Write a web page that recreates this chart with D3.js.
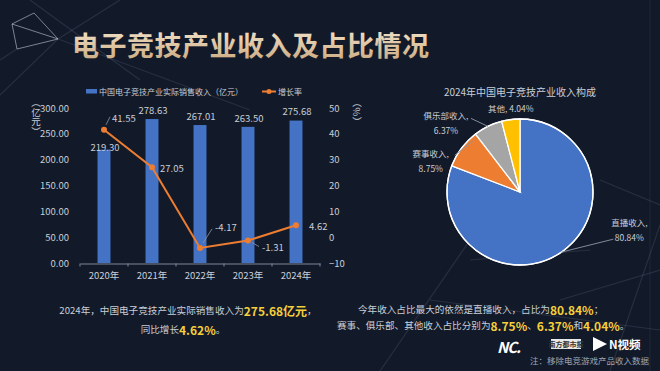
<!DOCTYPE html>
<html><head><meta charset="utf-8">
<script src="https://cdn.jsdelivr.net/npm/d3@7"></script>
<style>
html,body{margin:0;padding:0;background:#121a2a;}
svg{display:block;}
text{font-family:"Noto Sans CJK SC","Noto Sans",sans-serif;}
</style></head>
<body>
<svg id="c" width="660" height="371"></svg>
<script>
// ---- data ----
const years = ["2020年","2021年","2022年","2023年","2024年"];
const revenue = [219.30, 278.63, 267.01, 263.50, 275.68];
const growth = [41.55, 27.05, -4.17, -1.31, 4.62];
const leftTicks = [0, 50, 100, 150, 200, 250, 300];
const rightTicks = [-10, 0, 10, 20, 30, 40, 50];
const pieNames = ["直播收入", "赛事收入", "俱乐部收入", "其他"];
const pieShares = [80.84, 8.75, 6.37, 4.04];

// ---- style ----
const BLUE = "#4472c4", ORANGE = "#ed7d31", GRAY = "#a5a5a5", GOLD = "#ffc000";
const TXT = "#c9ced6";
const pieColors = [BLUE, ORANGE, GRAY, GOLD];
const barLabelDy = [-3, -9, -9, -9, -10];
const lineLabelStyle = [
  {dx: 8, dy: -12, anchor: "start", lead: [[2,-5],[6,-13]]},
  {dx: 8, dy: 1, anchor: "start", lead: null},
  {dx: 15, dy: -21, anchor: "start", lead: [[3,-5],[12,-19]]},
  {dx: 14, dy: 6, anchor: "start", lead: [[4,2],[11,6]]},
  {dx: 13, dy: 1, anchor: "start", lead: null}
];

const svg = d3.select("#c");

// background
svg.append("rect").attr("width",660).attr("height",371).attr("fill","#121a2a");
const deco = svg.append("g").attr("fill","none");
const faint = [[[0,95],[58,39]],[[30,0],[140,80]],[[58,39],[250,110]],[[0,60],[17,49]],[[120,0],[58,39]],
  [[600,180],[660,205]],[[660,225],[610,371]],[[470,260],[590,250]],[[560,300],[660,270]],[[380,371],[470,240]],[[430,300],[660,330]]];
faint.forEach(l=>deco.append("line").attr("x1",l[0][0]).attr("y1",l[0][1]).attr("x2",l[1][0]).attr("y2",l[1][1])
  .attr("stroke","rgba(190,200,220,0.12)").attr("stroke-width",1.2));
const tri = [[[12,24],[34,13]],[[34,13],[58,39]],[[12,24],[58,39]],[[12,24],[17,49]],[[17,49],[58,39]]];
tri.forEach(l=>deco.append("line").attr("x1",l[0][0]).attr("y1",l[0][1]).attr("x2",l[1][0]).attr("y2",l[1][1])
  .attr("stroke","rgba(210,215,225,0.55)").attr("stroke-width",1));
deco.append("line").attr("x1",650).attr("y1",0).attr("x2",650).attr("y2",371).attr("stroke","rgba(190,200,220,0.08)");

// title
const defs = svg.append("defs");
const g1 = defs.append("linearGradient").attr("id","tg").attr("x1","0").attr("y1","0").attr("x2","0").attr("y2","1");
g1.append("stop").attr("offset","0%").attr("stop-color","#f6e9d2");
g1.append("stop").attr("offset","100%").attr("stop-color","#c9a77c");
svg.append("text").attr("x",72).attr("y",44).attr("dominant-baseline","central")
  .attr("font-size",27).attr("font-weight",700).attr("fill","url(#tg)").attr("letter-spacing",0.5)
  .text("电子竞技产业收入及占比情况");

// ---- bar + line chart ----
const x = d3.scaleBand().domain(years).range([80,320]).paddingInner(0.73).paddingOuter(0.365);
const yL = d3.scaleLinear().domain([0,300]).range([263,108]);
const yR = d3.scaleLinear().domain([-10,50]).range([263,108]);

const axL = svg.append("g").attr("transform","translate(72,0)")
  .call(d3.axisLeft(yL).tickValues(leftTicks).tickFormat(d3.format(".2f")).tickSize(0).tickPadding(3));
axL.select(".domain").remove();
axL.selectAll("text").attr("fill",TXT).attr("font-size",9.5);
const axR = svg.append("g").attr("transform","translate(326,0)")
  .call(d3.axisRight(yR).tickValues(rightTicks).tickSize(0).tickPadding(3));
axR.select(".domain").remove();
axR.selectAll("text").attr("fill",TXT).attr("font-size",9.5);

const axB = svg.append("g").attr("transform","translate(0,263.5)")
  .call(d3.axisBottom(x).tickSize(0).tickPadding(9));
axB.select(".domain").attr("stroke","#7d8696");
axB.selectAll("text").attr("fill",TXT).attr("font-size",9.5);
const bounds = d3.range(years.length+1).map(i => x.range()[0] + i*x.step());
svg.append("g").selectAll("line").data(bounds).join("line")
  .attr("x1",d=>d).attr("x2",d=>d).attr("y1",263.5).attr("y2",266.5).attr("stroke","#7d8696");

svg.append("text").attr("x",36).attr("y",98).attr("fill",TXT).attr("font-size",9.5)
  .style("writing-mode","vertical-rl").text("（亿元）");
svg.append("text").attr("x",357).attr("y",98).attr("fill",TXT).attr("font-size",9.5)
  .style("writing-mode","vertical-rl").text("（%）");

// bars
svg.append("g").selectAll("rect").data(revenue).join("rect")
  .attr("x",(d,i)=>x(years[i])).attr("width",x.bandwidth())
  .attr("y",d=>yL(d)).attr("height",d=>yL(0)-yL(d)).attr("fill",BLUE);
svg.append("g").selectAll("text").data(revenue).join("text")
  .attr("x",(d,i)=>x(years[i])+x.bandwidth()/2+1).attr("y",(d,i)=>yL(d)+barLabelDy[i])
  .attr("text-anchor","middle").attr("dominant-baseline","central").attr("fill",TXT).attr("font-size",9.5)
  .text(d=>d.toFixed(2));

// line
const cx = i => x(years[i]) + x.bandwidth()/2;
const line = d3.line().x((d,i)=>cx(i)).y(d=>yR(d));
svg.append("path").datum(growth).attr("d",line).attr("fill","none").attr("stroke",ORANGE).attr("stroke-width",2);
svg.append("g").selectAll("circle").data(growth).join("circle")
  .attr("cx",(d,i)=>cx(i)).attr("cy",d=>yR(d)).attr("r",3).attr("fill",ORANGE);
const ll = svg.append("g");
growth.forEach((d,i)=>{
  const s = lineLabelStyle[i], px = cx(i), py = yR(d);
  if (s.lead) ll.append("line").attr("x1",px+s.lead[0][0]).attr("y1",py+s.lead[0][1])
     .attr("x2",px+s.lead[1][0]).attr("y2",py+s.lead[1][1]).attr("stroke","#8d96a6").attr("stroke-width",0.8);
  ll.append("text").attr("x",px+s.dx).attr("y",py+s.dy).attr("dominant-baseline","central")
    .attr("text-anchor",s.anchor).attr("fill",TXT).attr("font-size",9.5).text(d.toFixed(2));
});

// legend
const lg = svg.append("g");
lg.append("rect").attr("x",86).attr("y",89).attr("width",11).attr("height",4.5).attr("fill",BLUE);
lg.append("text").attr("x",99).attr("y",91.5).attr("dominant-baseline","central").attr("fill",TXT)
  .attr("font-size",8).text("中国电子竞技产业实际销售收入（亿元）");
lg.append("line").attr("x1",262).attr("x2",276).attr("y1",91.5).attr("y2",91.5).attr("stroke",ORANGE).attr("stroke-width",2);
lg.append("circle").attr("cx",269).attr("cy",91.5).attr("r",2.5).attr("fill",ORANGE);
lg.append("text").attr("x",278).attr("y",91.5).attr("dominant-baseline","central").attr("fill",TXT)
  .attr("font-size",8).text("增长率");

// ---- pie ----
const pcx = 520, pcy = 192, R = 73;
const pie = d3.pie().sort(null).value(d=>d)(pieShares);
const arc = d3.arc().innerRadius(0).outerRadius(R);
const pg = svg.append("g").attr("transform",`translate(${pcx},${pcy})`);
pg.selectAll("path").data(pie).join("path").attr("d",arc)
  .attr("fill",(d,i)=>pieColors[i]).attr("stroke","#ffffff").attr("stroke-width",1.3);
pg.append("circle").attr("r",R).attr("fill","none").attr("stroke","#ffffff").attr("stroke-width",1.3);

svg.append("text").attr("x",520).attr("y",91).attr("text-anchor","middle").attr("dominant-baseline","central")
  .attr("fill",TXT).attr("font-size",10).text("2024年中国电子竞技产业收入构成");

const pieLab = [
  {r:1.0, a:0, le:[52,-13], t:[68,-30], one:false},
  {r:0.95, a:0.18, le:[-18,14], t:[-42,12], one:false},
  {r:1.0, a:0, le:[-17,-8], t:[-42,-11], one:false},
  {r:1.0, a:0, le:null, t:[0,-12], one:true}
];
const pl = svg.append("g");
pie.forEach((d,i)=>{
  const L = pieLab[i];
  const m = (d.startAngle+d.endAngle)/2 + L.a;
  const sx = pcx + Math.sin(m)*R*L.r, sy = pcy - Math.cos(m)*R*L.r;
  if (L.le) pl.append("line").attr("x1",sx).attr("y1",sy).attr("x2",sx+L.le[0]).attr("y2",sy+L.le[1])
    .attr("stroke","#8d96a6").attr("stroke-width",0.9);
  const t = pl.append("text").attr("x",sx+L.t[0]).attr("y",sy+L.t[1]).attr("text-anchor","middle")
    .attr("dominant-baseline","central").attr("fill",TXT).attr("font-size",8.5);
  if (L.one) t.text(`${pieNames[i]}, ${pieShares[i].toFixed(2)}%`);
  else {
    t.append("tspan").attr("x",sx+L.t[0]).text(pieNames[i]+",");
    t.append("tspan").attr("x",sx+L.t[0]).attr("dy",14.5).text(pieShares[i].toFixed(2)+"%");
  }
});

// ---- bottom text ----
const YEL = "#f5cf3a";
function para(xx, yy, parts, anchor){
  const t = svg.append("text").attr("x",xx).attr("y",yy).attr("text-anchor",anchor||"start")
    .attr("dominant-baseline","central");
  parts.forEach(p=>{
    t.append("tspan").attr("fill",p[1]?YEL:TXT).attr("font-size",p[1]?12:9.6)
      .attr("font-weight",p[1]?700:400).text(p[0]);
  });
}
const last = revenue.length-1;
para(188, 310, [[`2024年，中国电子竞技产业实际销售收入为`],[`${revenue[last].toFixed(2)}亿元`,1],[`，`]], "middle");
para(183, 329, [[`同比增长`],[`${growth[last].toFixed(2)}%`,1],[`。`]], "middle");
para(358, 309, [[`今年收入占比最大的依然是直播收入，占比为`],[`${pieShares[0].toFixed(2)}%`,1],[`；`]]);
para(337, 324.5, [[`赛事、俱乐部、其他收入占比分别为`],[`${pieShares[1].toFixed(2)}%`,1],[`、`],[`${pieShares[2].toFixed(2)}%`,1],[`和`],[`${pieShares[3].toFixed(2)}%`,1],[`。`]]);

// logos
svg.append("text").attr("x",497).attr("y",346).attr("dominant-baseline","central").attr("fill","#ffffff")
  .attr("font-size",15).attr("font-weight",700).attr("font-style","italic").attr("font-family","Liberation Sans, sans-serif")
  .attr("letter-spacing",-1).text("NC.");
svg.append("rect").attr("x",551).attr("y",339).attr("width",30).attr("height",10).attr("fill","#e8e8e8");
svg.append("text").attr("x",566).attr("y",344).attr("text-anchor","middle").attr("dominant-baseline","central")
  .attr("fill","#333").attr("font-size",7).attr("font-weight",700).text("南方都市报");
svg.append("path").attr("d","M593,337 L593,351 L607,344 Z").attr("fill","#ffffff");
svg.append("text").attr("x",609).attr("y",344).attr("dominant-baseline","central").attr("fill","#ffffff")
  .attr("font-size",11.5).attr("font-weight",700).text("N视频");
svg.append("text").attr("x",649).attr("y",360).attr("text-anchor","end").attr("dominant-baseline","central")
  .attr("fill","#9ea6b3").attr("font-size",8.5).text("注：移除电竞游戏产品收入数据");
</script>
</body></html>
